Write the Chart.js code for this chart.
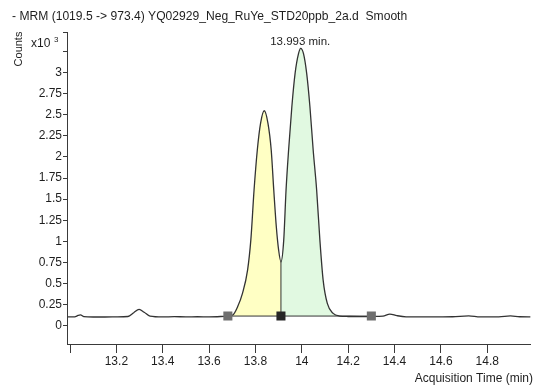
<!DOCTYPE html>
<html>
<head>
<meta charset="utf-8">
<script src="https://cdn.jsdelivr.net/npm/chart.js@4.4.0/dist/chart.umd.min.js"></script>
<style>
    html, body { margin: 0; padding: 0; background: #fff; }
    #wrap { width: 537px; height: 387px; }
</style>
</head>
<body>
<div id="wrap"><canvas id="ticChart"></canvas></div>
<script>
const titleText = '- MRM (1019.5 -> 973.4) YQ02929_Neg_RuYe_STD20ppb_2a.d  Smooth';
const peakLabel = '13.993 min.';
const peakTime = 13.993;
const xTitle = 'Acquisition Time (min)';
const yTitle = 'Counts';

// acquisition time (min) and counts (x10^3)
const times = [12.99, 13.02, 13.035, 13.045, 13.06, 13.10, 13.15, 13.20, 13.25, 13.275,
    13.298, 13.32, 13.345, 13.40, 13.45, 13.50, 13.55, 13.60, 13.65, 13.681,
    13.702, 13.723, 13.744, 13.766, 13.780, 13.794, 13.808, 13.822, 13.838, 13.854,
    13.868, 13.879, 13.890, 13.900, 13.910, 13.922, 13.932, 13.943, 13.957, 13.971,
    13.986, 13.995, 14.007, 14.021, 14.035, 14.049, 14.064, 14.078, 14.092, 14.110,
    14.135, 14.163, 14.20, 14.25, 14.30, 14.35, 14.38, 14.41, 14.45, 14.55,
    14.65, 14.72, 14.77, 14.85, 14.90, 14.94, 14.987];
const counts = [0.105, 0.106, 0.122, 0.128, 0.108, 0.104, 0.104, 0.105, 0.11, 0.155,
    0.194, 0.16, 0.115, 0.105, 0.108, 0.106, 0.107, 0.106, 0.11, 0.115,
    0.127, 0.225, 0.384, 0.66, 1.015, 1.608, 2.082, 2.398, 2.547, 2.398,
    2.082, 1.608, 1.173, 0.897, 0.758, 1.015, 1.608, 2.082, 2.595, 2.99,
    3.227, 3.287, 3.227, 2.99, 2.595, 2.082, 1.608, 1.015, 0.541, 0.265,
    0.147, 0.115, 0.11, 0.108, 0.11, 0.115, 0.139, 0.12, 0.106, 0.105,
    0.107, 0.118, 0.106, 0.106, 0.116, 0.107, 0.106];

// integration marks: start, split, end
const markTimes = [13.681, 13.910, 14.30];
const markColors = ['#6f6f6f', '#262626', '#6f6f6f'];
const baselineLevel = 0.115;

const xTicks = [13.0, 13.2, 13.4, 13.6, 13.8, 14.0, 14.2, 14.4, 14.6, 14.8];
const yTicks = [0, 0.25, 0.5, 0.75, 1, 1.25, 1.5, 1.75, 2, 2.25, 2.5, 2.75, 3, 3.25];

const xMin = 12.987, xMax = 14.987;
const yMin = -0.216, yMax = 3.48;

const font = "'Liberation Sans', Arial, sans-serif";
const inkColor = '#1e1e1e';
const axisColor = '#3a3a3a';

function pointsBetween(t0, t1) {
    const pts = [];
    for (let i = 0; i < times.length; i++) {
        if (times[i] >= t0 && times[i] <= t1) {
            pts.push({ x: times[i], y: counts[i] });
        }
    }
    return pts;
}

function countAt(t) {
    return counts[times.indexOf(t)];
}

const tracePoints = times.map((t, i) => ({ x: t, y: counts[i] }));

const textPlugin = {
    id: 'chromTexts',
    afterDraw(chart) {
        const c = chart.ctx;
        const xs = chart.scales.x;
        c.save();
        c.fillStyle = inkColor;
        c.textBaseline = 'alphabetic';

        c.font = '12.1px ' + font;
        c.textAlign = 'left';
        c.fillText(titleText, 12, 20);

        c.font = '11.5px ' + font;
        c.textAlign = 'center';
        c.fillText(peakLabel, xs.getPixelForValue(peakTime), 45);

        c.font = '12px ' + font;
        c.textAlign = 'left';
        c.fillText('x10', 31, 46.5);
        c.font = '8px ' + font;
        c.fillText('3', 54, 42);

        c.font = '12px ' + font;
        c.textAlign = 'right';
        c.fillText(xTitle, 533, 382);

        c.translate(21.5, 49);
        c.rotate(-Math.PI / 2);
        c.font = '11px ' + font;
        c.textAlign = 'center';
        c.fillText(yTitle, 0, 0);
        c.restore();
    }
};

function loadChart() {
    const ctx = document.getElementById('ticChart').getContext('2d');
    const valley = countAt(markTimes[1]);

    new Chart(ctx, {
        type: 'line',
        data: {
            datasets: [
                {
                    // main trace
                    data: tracePoints,
                    borderColor: '#333333',
                    borderWidth: 1.3,
                    pointRadius: 0,
                    cubicInterpolationMode: 'monotone',
                    fill: false,
                    order: 2
                },
                {
                    data: pointsBetween(markTimes[0], markTimes[1]),
                    borderWidth: 0,
                    borderColor: 'rgba(0,0,0,0)',
                    backgroundColor: '#ffffc4',
                    pointRadius: 0,
                    cubicInterpolationMode: 'monotone',
                    fill: { value: baselineLevel },
                    order: 5
                },
                {
                    data: pointsBetween(markTimes[1], markTimes[2]),
                    borderWidth: 0,
                    borderColor: 'rgba(0,0,0,0)',
                    backgroundColor: '#e1f9e1',
                    pointRadius: 0,
                    cubicInterpolationMode: 'monotone',
                    fill: { value: baselineLevel },
                    order: 4
                },
                {
                    // integration baseline
                    data: [{ x: markTimes[0], y: baselineLevel }, { x: markTimes[2], y: baselineLevel }],
                    borderColor: '#333333',
                    borderWidth: 1,
                    pointRadius: 0,
                    fill: false,
                    order: 3
                },
                {
                    // peak split drop line
                    data: [{ x: markTimes[1], y: baselineLevel }, { x: markTimes[1], y: valley }],
                    borderColor: '#333333',
                    borderWidth: 1,
                    pointRadius: 0,
                    fill: false,
                    order: 1
                },
                {
                    data: markTimes.map(t => ({ x: t, y: baselineLevel })),
                    showLine: false,
                    pointStyle: 'rect',
                    pointRadius: 6.4,
                    pointBorderWidth: 0,
                    pointBackgroundColor: markColors,
                    pointBorderColor: markColors,
                    order: 0
                }
            ]
        },
        options: {
            responsive: true,
            maintainAspectRatio: false,
            animation: false,
            events: [],
            layout: { padding: { top: 32, right: 0, left: 0, bottom: 0 } },
            plugins: {
                legend: { display: false },
                tooltip: { enabled: false }
            },
            scales: {
                x: {
                    type: 'linear',
                    min: xMin,
                    max: xMax,
                    afterBuildTicks: (scale) => {
                        scale.ticks = xTicks.map(v => ({ value: v }));
                    },
                    afterFit: (scale) => { scale.height = 43; },
                    ticks: {
                        autoSkip: false,
                        maxRotation: 0,
                        padding: 1,
                        color: inkColor,
                        font: { family: font, size: 12 },
                        callback: (v) => (v === 13 ? '' : String(parseFloat(v.toFixed(1))))
                    },
                    grid: {
                        drawOnChartArea: false,
                        drawTicks: true,
                        tickLength: 9,
                        color: axisColor
                    },
                    border: { display: true, color: axisColor, width: 1 }
                },
                y: {
                    min: yMin,
                    max: yMax,
                    afterBuildTicks: (scale) => {
                        scale.ticks = yTicks.concat([yMax]).map(v => ({ value: v }));
                    },
                    afterFit: (scale) => { scale.width = 67; },
                    ticks: {
                        autoSkip: false,
                        padding: 1,
                        color: inkColor,
                        font: { family: font, size: 12 },
                        callback: (v) => (v > 3 ? '' : String(v))
                    },
                    grid: {
                        drawOnChartArea: false,
                        drawTicks: true,
                        tickLength: 4,
                        color: axisColor
                    },
                    border: { display: true, color: axisColor, width: 1 }
                }
            }
        },
        plugins: [textPlugin]
    });
}

document.addEventListener('DOMContentLoaded', loadChart);
</script>
</body>
</html>
